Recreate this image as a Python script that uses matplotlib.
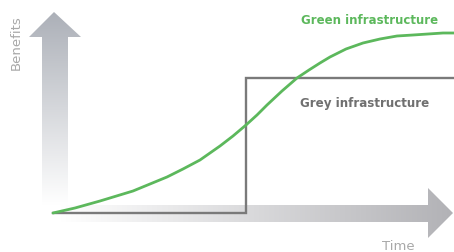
import matplotlib
matplotlib.use("Agg")
import matplotlib.pyplot as plt
import numpy as np
from matplotlib.patches import Polygon

# (time vs benefits, origin at the arrows' corner)
green_t = [0, 22, 47, 80, 114, 130, 147, 167, 180, 193, 204, 214, 229, 244, 256, 267, 277, 293, 310, 327, 344, 360, 375, 390, 401]
green_b = [0, 5, 12, 22, 36, 44, 53, 67, 77, 88, 98, 108, 122, 135, 143, 150, 156, 164, 170, 174, 177, 178, 179, 180, 180]
grey_t = [0, 193, 193, 401]
grey_b = [0, 0, 135, 135]

GREEN = "#5cb85c"
GREY = "#7a7a7a"

fig = plt.figure(figsize=(4.54, 2.52), dpi=100)
ax = fig.add_axes([0, 0, 1, 1])
ax.set_xlim(-53, 401)
ax.set_ylim(-39, 213)
ax.axis("off")


def gradient_arrow(ax, verts, extent, c0, c1, vertical):
    n = 256
    ramp = np.linspace(0, 1, n)
    c0 = np.array(c0) / 255.0
    c1 = np.array(c1) / 255.0
    cols = c0[None, :] * (1 - ramp[:, None]) + c1[None, :] * ramp[:, None]
    if vertical:
        img = cols[:, None, :]          # row 0 at bottom (origin='lower')
    else:
        img = cols[None, :, :]
    im = ax.imshow(img, extent=extent, origin="lower", aspect="auto",
                   interpolation="bilinear", zorder=1)
    poly = Polygon(verts, closed=True, facecolor="none", edgecolor="none")
    ax.add_patch(poly)
    im.set_clip_path(poly)


# vertical (benefits) arrow: fades out towards the bottom
v_arrow = [(-11, 8), (-11, 176), (-24, 176), (1, 201), (28, 176), (15, 176), (15, 8)]
gradient_arrow(ax, v_arrow, (-24, 28, 8, 201), (255, 255, 255), (172, 176, 184), True)

# horizontal (time) arrow: fades out towards the left
h_arrow = [(7, 8), (375, 8), (375, 25), (400, 0), (375, -25), (375, -9), (7, -9)]
gradient_arrow(ax, h_arrow, (7, 400, -25, 25), (255, 255, 255), (178, 178, 182), False)

ax.plot(grey_t, grey_b, color=GREY, lw=1.7, solid_joinstyle="miter", zorder=3)
ax.plot(green_t, green_b, color=GREEN, lw=2.0, solid_capstyle="round", zorder=4)

ax.text(317, 193, "Green infrastructure", color=GREEN, fontsize=8.5,
        fontweight="bold", ha="center", va="center")
ax.text(312, 110, "Grey infrastructure", color="#707070", fontsize=8.6,
        fontweight="bold", ha="center", va="center")
ax.text(-37, 170, "Benefits", color="#a8a8a8", fontsize=9.5,
        rotation=90, ha="center", va="center")
ax.text(345, -34, "Time", color="#a8a8a8", fontsize=9.5,
        ha="center", va="center")

fig.savefig("out.png", dpi=100)
